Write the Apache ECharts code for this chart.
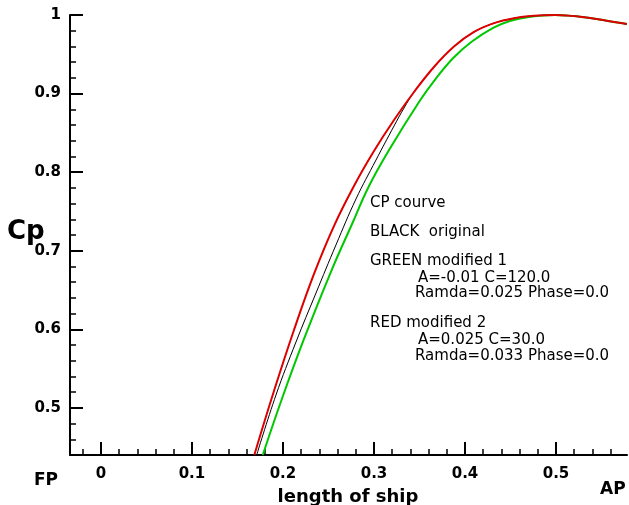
<!DOCTYPE html>
<html>
<head>
<meta charset="utf-8">
<script src="https://cdn.jsdelivr.net/npm/echarts@6/dist/echarts.min.js"></script>
<style>
  html, body { margin: 0; padding: 0; background: #fff; }
  #chart { width: 629px; height: 505px; }
</style>
</head>
<body>
<div id="chart"></div>
<script>
// ship length positions and Cp values
const xBlack = [0.1711, 0.1923, 0.2143, 0.2363, 0.2582, 0.2802, 0.3022, 0.3220, 0.3330, 0.3440, 0.3659, 0.3879, 0.4099, 0.4319, 0.4538, 0.4758, 0.4989, 0.5264, 0.5557, 0.5777];
const cpBlack = [0.44, 0.5163, 0.5838, 0.6462, 0.7073, 0.7658, 0.8154, 0.8587, 0.8816, 0.9020, 0.9338, 0.9598, 0.9784, 0.9896, 0.9959, 0.9990, 1.0, 0.9978, 0.9927, 0.9885];

const xGreen = [0.1778, 0.1984, 0.2227, 0.2535, 0.2764, 0.2940, 0.3159, 0.3509, 0.3684, 0.3871, 0.4069, 0.4309, 0.4492, 0.4703, 0.4989, 0.5264, 0.5557, 0.5777];
const cpGreen = [0.44, 0.5100, 0.5864, 0.6754, 0.7353, 0.7811, 0.8269, 0.8918, 0.9198, 0.9453, 0.9656, 0.9835, 0.9924, 0.9975, 1.0, 0.9978, 0.9927, 0.9885];

const xRed = [0.1685, 0.1901, 0.2121, 0.2341, 0.2560, 0.2780, 0.3000, 0.3220, 0.3440, 0.3659, 0.3879, 0.4099, 0.4319, 0.4538, 0.4758, 0.4989, 0.5264, 0.5557, 0.5777];
const cpRed = [0.44, 0.5214, 0.5991, 0.6704, 0.7314, 0.7824, 0.8269, 0.8664, 0.9020, 0.9338, 0.9598, 0.9784, 0.9896, 0.9959, 0.9990, 1.0, 0.9978, 0.9927, 0.9885];

const xTicks = [0, 0.1, 0.2, 0.3, 0.4, 0.5];
const xMinorTicks = [-0.02, 0.02, 0.04, 0.06, 0.08, 0.12, 0.14, 0.16, 0.18, 0.22, 0.24, 0.26, 0.28,
                     0.32, 0.34, 0.36, 0.38, 0.42, 0.44, 0.46, 0.48, 0.52, 0.54, 0.56];
const yTicks = [0.5, 0.6, 0.7, 0.8, 0.9, 1];
const yMinorTicks = [0.46, 0.48, 0.52, 0.54, 0.56, 0.58, 0.62, 0.64, 0.66, 0.68, 0.72, 0.74, 0.76, 0.78,
                     0.82, 0.84, 0.86, 0.88, 0.92, 0.94, 0.96, 0.98];

const notes = [
    ['CP courve', 370, 203],
    ['BLACK  original', 370, 232],
    ['GREEN modified 1', 370, 261],
    ['A=-0.01 C=120.0', 418, 278],
    ['Ramda=0.025 Phase=0.0', 415, 293],
    ['RED modified 2', 370, 323],
    ['A=0.025 C=30.0', 418, 340],
    ['Ramda=0.033 Phase=0.0', 415, 356]
];

const FONT = '"DejaVu Sans", Arial, sans-serif';
const pairs = (xs, ys) => xs.map((x, i) => [x, ys[i]]);
const fmt = v => String(Math.round(v * 10) / 10);

const xMin = -0.034, xMax = 0.578;
const yMin = 0.44, yMax = 1;

const myChart = echarts.init(document.getElementById('chart'));

const option = {
    backgroundColor: '#fff',
    animation: false,
    grid: { left: 70, right: 2, top: 15, bottom: 50 },
    xAxis: [
        {
            type: 'value', min: xMin, max: xMax, position: 'bottom',
            axisLine: { onZero: false, lineStyle: { color: '#000', width: 2 } },
            axisTick: { inside: true, length: 13, customValues: xTicks, lineStyle: { color: '#000', width: 2 } },
            axisLabel: {
                customValues: xTicks, formatter: fmt, margin: 12,
                color: '#000', fontFamily: FONT, fontWeight: 'bold', fontSize: 15
            },
            splitLine: { show: false }
        },
        {
            type: 'value', min: xMin, max: xMax, position: 'bottom',
            axisLine: { show: false, onZero: false },
            axisTick: { inside: true, length: 6, customValues: xMinorTicks, lineStyle: { color: '#000', width: 1.5 } },
            axisLabel: { show: false },
            splitLine: { show: false }
        }
    ],
    yAxis: [
        {
            type: 'value', min: yMin, max: yMax, position: 'left',
            axisLine: { show: true, onZero: false, lineStyle: { color: '#000', width: 2 } },
            axisTick: { show: true, inside: true, length: 13, customValues: yTicks, lineStyle: { color: '#000', width: 2 } },
            axisLabel: {
                customValues: yTicks, formatter: fmt, margin: 9,
                color: '#000', fontFamily: FONT, fontWeight: 'bold', fontSize: 15
            },
            splitLine: { show: false }
        },
        {
            type: 'value', min: yMin, max: yMax, position: 'left',
            axisLine: { show: false, onZero: false },
            axisTick: { show: true, inside: true, length: 6, customValues: yMinorTicks, lineStyle: { color: '#000', width: 1.5 } },
            axisLabel: { show: false },
            splitLine: { show: false }
        }
    ],
    series: [
        {
            name: 'green', type: 'line', data: pairs(xGreen, cpGreen),
            showSymbol: false, smooth: 0.4,
            lineStyle: { color: '#00c800', width: 2 }, z: 2
        },
        {
            name: 'black', type: 'line', data: pairs(xBlack, cpBlack),
            showSymbol: false, smooth: 0.4,
            lineStyle: { color: '#000', width: 1 }, z: 3
        },
        {
            name: 'red', type: 'line', data: pairs(xRed, cpRed),
            showSymbol: false, smooth: 0.4,
            lineStyle: { color: '#dc0000', width: 2 }, z: 4
        }
    ],
    graphic: [
        ...notes.map(n => ({
            type: 'text', x: n[1], y: n[2], z: 10,
            style: { text: n[0], font: '15px ' + FONT, fill: '#000', textVerticalAlign: 'middle' }
        })),
        {
            type: 'text', x: 7, y: 232, z: 20,
            style: { text: 'Cp', font: 'bold 26px ' + FONT, fill: '#000', textVerticalAlign: 'middle' }
        },
        {
            type: 'text', x: 34, y: 481, z: 20,
            style: { text: 'FP', font: 'bold 17px ' + FONT, fill: '#000', textVerticalAlign: 'middle' }
        },
        {
            type: 'text', x: 600, y: 490, z: 20,
            style: { text: 'AP', font: 'bold 17px ' + FONT, fill: '#000', textVerticalAlign: 'middle' }
        },
        {
            type: 'text', x: 348, y: 497, z: 20,
            style: { text: 'length of ship', font: 'bold 18px ' + FONT, fill: '#000', textAlign: 'center', textVerticalAlign: 'middle' }
        }
    ]
};

myChart.setOption(option);
</script>
</body>
</html>
